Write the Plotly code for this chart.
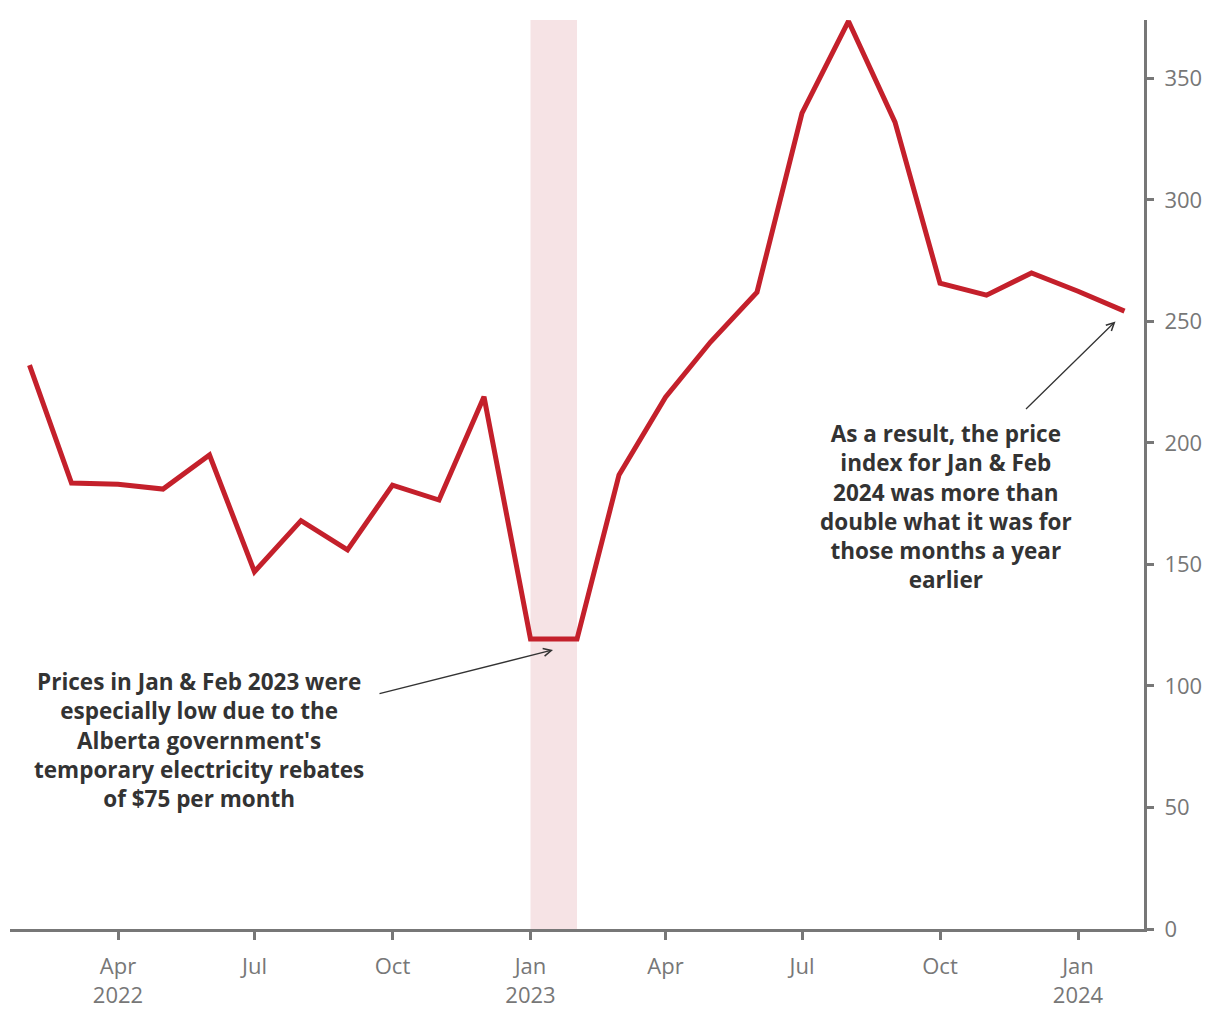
import plotly.graph_objects as go

months = ["2022-02-01", "2022-03-01", "2022-04-01", "2022-05-01", "2022-06-01", "2022-07-01",
          "2022-08-01", "2022-09-01", "2022-10-01", "2022-11-01", "2022-12-01",
          "2023-01-01", "2023-02-01", "2023-03-01", "2023-04-01", "2023-05-01", "2023-06-01",
          "2023-07-01", "2023-08-01", "2023-09-01", "2023-10-01", "2023-11-01", "2023-12-01",
          "2024-01-01", "2024-02-01"]
price_index = [232, 183.5, 183, 181, 195, 147, 168, 156, 182.6, 176.5, 219,
               119.3, 119.3, 186.8, 218.8, 241.5, 262, 335.7, 373.5, 332, 265.7, 260.8, 269.9,
               262.4, 254.2]
y_ticks = [0, 50, 100, 150, 200, 250, 300, 350]
x_tick_vals = ["2022-04-01", "2022-07-01", "2022-10-01", "2023-01-01", "2023-04-01",
               "2023-07-01", "2023-10-01", "2024-01-01"]
x_tick_text = ["Apr<br>2022", "Jul", "Oct", "Jan<br>2023", "Apr", "Jul", "Oct", "Jan<br>2024"]

note_low = ("Prices in Jan & Feb 2023 were<br>especially low due to the<br>Alberta government's<br>"
            "temporary electricity rebates<br>of $75 per month")
note_high = ("As a result, the price<br>index for Jan & Feb<br>2024 was more than<br>"
             "double what it was for<br>those months a year<br>earlier")

LINE = "#c4202b"
AXIS = "#777777"
TXT = "#333333"
FONT = "Open Sans"

fig = go.Figure()
fig.add_trace(go.Scatter(x=months, y=price_index, mode="lines",
                         line=dict(color=LINE, width=5), hoverinfo="skip"))

fig.add_shape(type="rect", xref="x", yref="paper", x0="2023-01-01", x1="2023-02-01",
              y0=0, y1=1, fillcolor="#f6e3e5", line_width=0, layer="below")

# text blocks
fig.add_annotation(x="2022-05-25", y=77.7, text=note_low, showarrow=False,
                   font=dict(family=FONT, size=22.5, color=TXT, weight="bold"), align="center")
fig.add_annotation(x="2023-10-05", y=174, text=note_high, showarrow=False,
                   font=dict(family=FONT, size=22.5, color=TXT, weight="bold"), align="center")
# arrows
fig.add_annotation(x="2023-01-16", y=114.8, text="", showarrow=True, ax=-175, ay=44,
                   arrowhead=5, arrowsize=1.2, arrowwidth=1.3, arrowcolor=TXT, standoff=0)
fig.add_annotation(x="2024-01-26", y=250, text="", showarrow=True, ax=-91, ay=89,
                   arrowhead=5, arrowsize=1.2, arrowwidth=1.3, arrowcolor=TXT, standoff=0)

fig.update_layout(
    width=1220, height=1020,
    margin=dict(l=10, r=76, t=20, b=91),
    plot_bgcolor="white", paper_bgcolor="white",
    showlegend=False,
    font=dict(family=FONT, color=AXIS, size=22),
)
fig.update_xaxes(range=["2022-01-19", "2024-02-14"], tickvals=x_tick_vals, ticktext=x_tick_text,
                 showgrid=False, zeroline=False, showline=True, linecolor=AXIS, linewidth=3,
                 ticks="outside", ticklen=8, tickwidth=3, tickcolor=AXIS, ticklabelstandoff=8,
                 tickfont=dict(family=FONT, size=22, color=AXIS))
fig.update_yaxes(range=[0, 374], side="right", tickvals=y_ticks,
                 showgrid=False, zeroline=False, showline=True, linecolor=AXIS, linewidth=3,
                 ticks="outside", ticklen=7, tickwidth=3, tickcolor=AXIS, ticklabelstandoff=6,
                 tickfont=dict(family=FONT, size=22, color=AXIS))

fig.write_html("out.html")
